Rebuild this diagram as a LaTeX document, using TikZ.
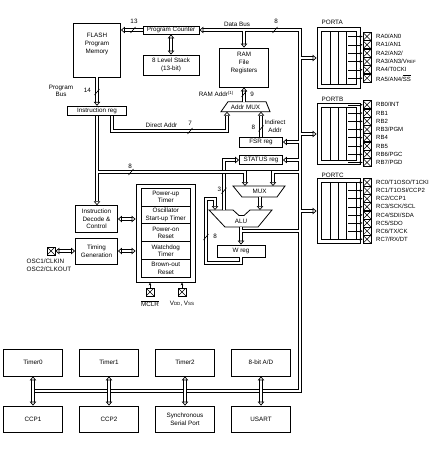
\documentclass[tikz,border=0pt]{standalone}
\usepackage{fontspec}
\setmainfont{Liberation Sans}
\usetikzlibrary{arrows.meta, calc}

\newcommand{\smc}[1]{{\fontsize{4.5}{5}\selectfont #1}}

\begin{document}
\begin{tikzpicture}[x=1pt, y=-1pt,
    every node/.style={font=\fontsize{6.3}{7.6}\selectfont, inner sep=0pt, align=center},
    blk/.style={draw, line width=0.8pt},
    bus/.style={line width=1pt, double=white, double distance=2pt},
    hd/.style={-{Triangle[open, length=4pt, width=6.5pt, line width=0.7pt]}},
    hdd/.style={{Triangle[open, length=4pt, width=6.5pt, line width=0.7pt]}-{Triangle[open, length=4pt, width=6.5pt, line width=0.7pt]}},
    slash/.style={line width=0.6pt},
    pinbox/.style={draw, line width=0.7pt, minimum size=8pt, path picture={
        \draw[line width=0.5pt] (path picture bounding box.south west) -- (path picture bounding box.north east)
        (path picture bounding box.north west) -- (path picture bounding box.south east);}},
    wire/.style={line width=0.6pt, -{Stealth[length=3pt, width=2.6pt]}},
    pinlbl/.style={anchor=west, font=\fontsize{6}{7}\selectfont},
  ]
  \useasboundingbox (0,0) rectangle (439,455);

  % core blocks
  \node[blk, minimum width=47pt, minimum height=54pt] (flash) at (97,50) {};
  \node (flashtxt) at (97,44) {FLASH\\Program\\Memory};
  \node[blk, minimum width=56pt, minimum height=8pt] (pc) at (171,30) {Program Counter};
  \node[blk, minimum width=56pt, minimum height=20pt] (stack) at (171,65) {8 Level Stack\\(13-bit)};
  \node[blk, minimum width=49pt, minimum height=39pt] (ram) at (244,67.5) {};
  \node (ramtxt) at (244,63) {RAM\\File\\Registers};
  \node[blk, minimum width=59pt, minimum height=9.5pt] (ireg) at (97,111) {Instruction reg};
  \node[blk, minimum width=43pt, minimum height=10pt] (fsr) at (261,142) {FSR reg};
  \node[blk, minimum width=43pt, minimum height=9pt] (status) at (261,160) {STATUS reg};
  \node[blk, minimum width=48pt, minimum height=12pt] (wreg) at (241,251) {W reg};
  \node[blk, minimum width=42pt, minimum height=26.7pt] (decode) at (96.5,219) {Instruction\\Decode \&\\Control};
  \node[blk, minimum width=42pt, minimum height=26pt] (timing) at (96.5,251) {Timing\\Generation};

  % muxes and ALU
  \draw[blk] (228,101.7) -- (266,101.7) -- (270,111.7) -- (221,111.7) -- cycle;
  \node (amux) at (245.5,107) {Addr MUX};
  \draw[blk] (233,186) -- (285,186) -- (277,197) -- (242,197) -- cycle;
  \node (mux) at (259.5,191.5) {MUX};
  \draw[blk] (209,210) -- (233,210) -- (239,215.5) -- (244,215.5) -- (250,210) -- (272,210)
    -- (258,227) -- (225,227) -- cycle;
  \node (alu) at (241,221.5) {ALU};

  % reset / timer group
  \node[blk, minimum width=59pt, minimum height=98pt] (pwr) at (165.5,233) {};
  \node[blk, minimum width=49.5pt, minimum height=17.9pt] (pwrt) at (165.75,196.95) {Power-up\\Timer};
  \node[blk, minimum width=49.5pt, minimum height=17.9pt] (ost) at (165.75,214.85) {Oscillator\\Start-up Timer};
  \node[blk, minimum width=49.5pt, minimum height=17.9pt] (por) at (165.75,232.75) {Power-on\\Reset};
  \node[blk, minimum width=49.5pt, minimum height=17.9pt] (wdt) at (165.75,250.65) {Watchdog\\Timer};
  \node[blk, minimum width=49.5pt, minimum height=17.9pt] (bor) at (165.75,268.55) {Brown-out\\Reset};

  % outside pins
  \node[pinbox] (osc) at (51,251) {};
  \node[anchor=west] (osc1) at (26.5,261.3) {OSC1/CLKIN};
  \node[anchor=west] (osc2) at (26.5,269.3) {OSC2/CLKOUT};
  \node[pinbox] (mclr) at (150,292) {};
  \node (mclrtxt) at (150,303.5) {$\overline{\mbox{MCLR}}$};
  \node[pinbox] (vdd) at (182,292) {};
  \node (vddtxt) at (182,303.5) {V\smc{DD}, V\smc{SS}};
  \draw[wire] (mclr.north) -- (mclr.north |- pwr.south);
  \draw[wire] (vdd.north) -- (vdd.north |- pwr.south);

  % peripherals
  \node[blk, minimum width=59pt, minimum height=27pt] (tmr0) at (33,362.5) {Timer0};
  \node[blk, minimum width=59pt, minimum height=27pt] (tmr1) at (109,362.5) {Timer1};
  \node[blk, minimum width=59pt, minimum height=27pt] (tmr2) at (185,362.5) {Timer2};
  \node[blk, minimum width=59pt, minimum height=27pt] (adc) at (261,362.5) {8-bit A/D};
  \node[blk, minimum width=59pt, minimum height=26pt] (ccp1) at (33,419) {CCP1};
  \node[blk, minimum width=59pt, minimum height=26pt] (ccp2) at (109,419) {CCP2};
  \node[blk, minimum width=59pt, minimum height=26pt] (ssp) at (185,419) {Synchronous\\Serial Port};
  \node[blk, minimum width=59pt, minimum height=26pt] (usart) at (261,419) {USART};

  % ports
  \node[blk, minimum width=43pt, minimum height=61pt] (porta) at (338.5,58) {};
  \node[blk, minimum width=43pt, minimum height=61.6pt] (portb) at (338.5,134) {};
  \node[blk, minimum width=43pt, minimum height=65pt] (portc) at (338.5,211) {};
  \node[anchor=west] (portalbl) at (321.5,22.7) {PORTA};
  \node[anchor=west] (portblbl) at (321.5,99) {PORTB};
  \node[anchor=west] (portclbl) at (321.5,175) {PORTC};
  \foreach \p in {porta,portb,portc} {
    \draw[line width=0.7pt] ($(\p.north west)+(5,4.5)$) rectangle ($(\p.south east)+(-4.5,-4.5)$);
    \foreach \dx in {13.4,21.75,30.1}
      \draw[line width=0.7pt] ($(\p.north west)+(\dx,4.5)$) -- ($(\p.south west)+(\dx,-4.5)$);
  }
  \foreach \lab [count=\i from 0] in {RA0/AN0, RA1/AN1, RA2/AN2/, {RA3/AN3/V\smc{REF}},
      RA4/T0CKI, {RA5/AN4/$\overline{\mbox{SS}}$}} {
    \node[pinbox] (pa\i) at (367,36.5+8.33*\i) {};
    \draw[wire] (348,36.5+8.33*\i) -- (pa\i.west);
    \node[pinlbl] (pal\i) at (376,36.5+8.33*\i) {\lab};
  }
  \foreach \lab [count=\i from 0] in {RB0/INT, RB1, RB2, RB3/PGM, RB4, RB5, RB6/PGC, RB7/PGD} {
    \node[pinbox] (pb\i) at (367,104.8+8.24*\i) {};
    \draw[wire] (348,104.8+8.24*\i) -- (pb\i.west);
    \node[pinlbl] (pbl\i) at (376,104.8+8.24*\i) {\lab};
  }
  \foreach \lab [count=\i from 0] in {RC0/T1OSO/T1CKI, RC1/T1OSI/CCP2, RC2/CCP1, RC3/SCK/SCL,
      RC4/SDI/SDA, RC5/SDO, RC6/TX/CK, RC7/RX/DT} {
    \node[pinbox] (pc\i) at (367,182.5+8.1*\i) {};
    \draw[wire] (348,182.5+8.1*\i) -- (pc\i.west);
    \node[pinlbl] (pcl\i) at (376,182.5+8.1*\i) {\lab};
  }

  % buses
  \draw[bus, {Triangle[open, length=4pt, width=6.5pt, line width=0.7pt]}-] (pc.east) -- (300,30) -- (300,391) -- (33,391);
  \draw[bus, hd] (pc.west) -- (flash.east |- pc.west);
  \draw[bus, hdd] (pc.south) -- (stack.north);
  \draw[bus, hd] (244,31) -- (ram.north);
  \draw[bus, hd] (flash.south) -- (ireg.north);
  \draw[bus, hd] (ireg.south) -- (ireg.south |- decode.north);
  \draw[bus, hd] ($(ireg.south)+(15,0)$) -- (112,131) -- (227,131) -- (227,111.7);
  \draw[bus, hd] (244,101.7) -- (ram.south);
  \draw[bus, hd] (fsr.north) -- (261,111.7);
  \draw[bus, hd] (299,142) -- (fsr.east);
  \draw[bus, hd] (299,160) -- (status.east);
  \draw[bus, hd] (224,210) -- (224,160) -- (status.west);
  \draw[bus, hd] (98,172) -- (245,172) -- (245,186);
  \draw[bus, hd] (299,172) -- (273,172) -- (273,186);
  \draw[line width=1pt] (246.5,170.5) -- (271.5,170.5);
  \draw[bus, hd] (260,197) -- (260,210);
  \draw[bus, hd] (241,227) -- (wreg.north);
  \draw[bus] (242,231) -- (299,231);
  \draw[bus, hd] (wreg.south) -- (241,263) -- (206,263) -- (206,199) -- (215,199) -- (215,210);
  \draw[bus, hdd] (decode.east) -- (pwr.west |- decode.east);
  \draw[bus, hdd] (timing.east) -- (pwr.west |- timing.east);
  \draw[bus, hdd] (osc.east) -- (timing.west);
  \foreach \p in {porta,portb,portc}
    \draw[bus, hd] ($(\p.west)+(-16,0)$) -- (\p.west);
  \draw[bus, hdd] (tmr0.south) -- (ccp1.north);
  \draw[bus, hdd] (tmr1.south) -- (ccp2.north);
  \draw[bus, hdd] (tmr2.south) -- (ssp.north);
  \draw[bus, hdd] (adc.south) -- (usart.north);

  % bus widths
  \foreach \p in {(133,30), (275,30), (97,92), (244,94), (190,131), (261,128.5),
      (131,172), (224,190.7), (206,237)}
    \draw[slash] \p ++(-2.5,3) -- ++(5,-6);
  \node (w13) at (134,21) {13};
  \node (dbus) at (237,24.3) {Data Bus};
  \node (w8a) at (276,21) {8};
  \node (pbus) at (61,91) {Program\\Bus};
  \node (w14) at (87.3,90.7) {14};
  \node[anchor=east] (raddr) at (234,94) {RAM Addr\textsuperscript{(1)}};
  \node (w9) at (252,94) {9};
  \node (daddr) at (161.5,125) {Direct Addr};
  \node (w7) at (190,123.3) {7};
  \node (w8b) at (253.3,127.7) {8};
  \node (iaddr) at (275,126) {Indirect\\Addr};
  \node (w8c) at (130,166) {8};
  \node (w3) at (219.3,189.3) {3};
  \node (w8d) at (215,236) {8};
\end{tikzpicture}
\end{document}
